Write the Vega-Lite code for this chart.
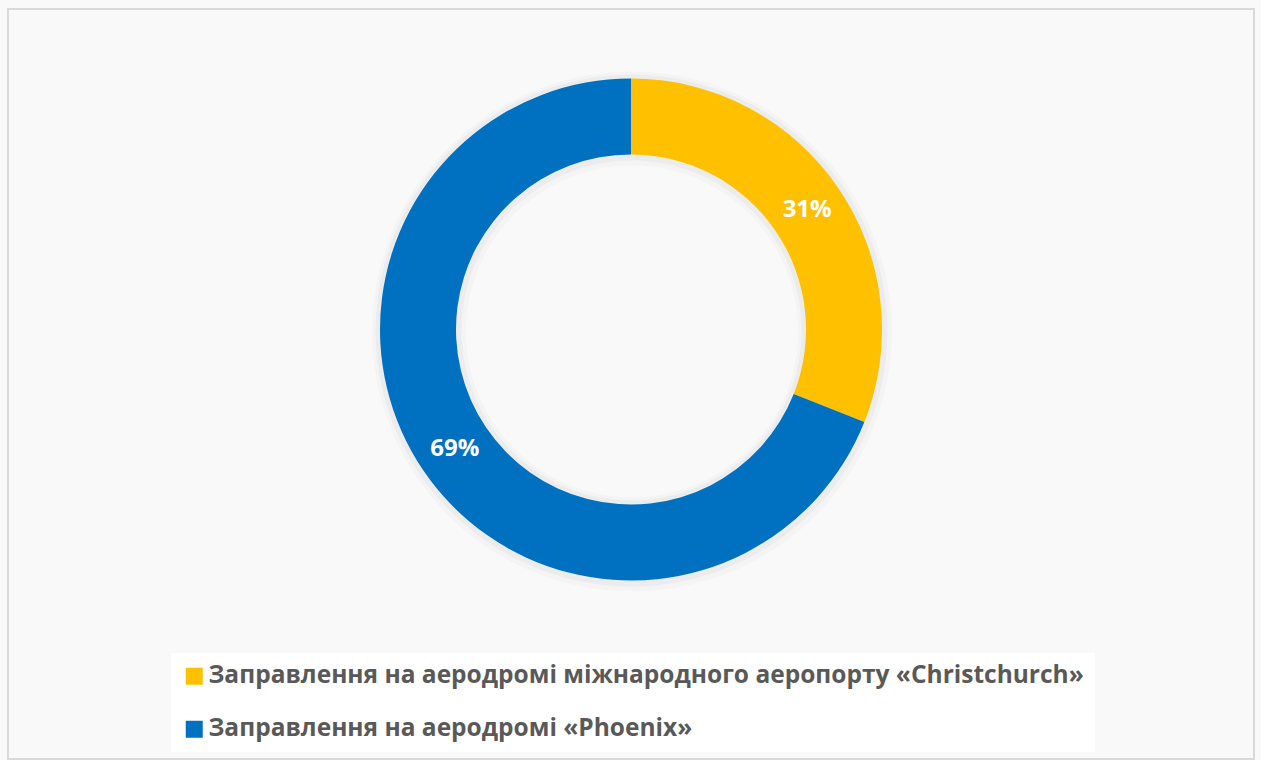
{
  "$schema": "https://vega.github.io/schema/vega-lite/v6.json",
  "width": 1246,
  "height": 750,
  "autosize": {"type": "none"},
  "padding": {"left": 8, "top": 9, "right": 7, "bottom": 1},
  "background": "#f9f9f9",
  "view": {"stroke": "#d9d9d9", "strokeWidth": 2},
  "config": {
    "view": {"stroke": "#d9d9d9", "strokeWidth": 2},
    "font": "Open Sans"
  },
  "data": {
    "values": [
      {"idx": 1, "category": "Заправлення на аеродромі міжнародного аеропорту «Christchurch»", "value": 31, "label": "31%"},
      {"idx": 2, "category": "Заправлення на аеродромі «Phoenix»", "value": 69, "label": "69%"}
    ]
  },
  "encoding": {
    "theta": {"field": "value", "type": "quantitative", "stack": true},
    "order": {"field": "idx", "type": "quantitative"}
  },
  "layer": [
    {
      "mark": {"type": "arc", "outerRadius": 260, "innerRadius": 166, "yOffset": -52.5, "xOffset": 1, "fill": "#000000", "opacity": 0.02}
    },
    {
      "mark": {"type": "arc", "outerRadius": 256, "innerRadius": 170, "yOffset": -53.5, "xOffset": 0.5, "fill": "#000000", "opacity": 0.03}
    },
    {
      "mark": {"type": "arc", "outerRadius": 251, "innerRadius": 175, "yOffset": -54.5},
      "encoding": {
        "color": {
          "field": "category",
          "type": "nominal",
          "sort": {"field": "idx"},
          "scale": {
            "domain": ["Заправлення на аеродромі міжнародного аеропорту «Christchurch»", "Заправлення на аеродромі «Phoenix»"],
            "range": ["#FFC000", "#0070C0"]
          },
          "legend": {
            "title": null,
            "orient": "none",
            "legendX": 163,
            "legendY": 644,
            "direction": "vertical",
            "fillColor": "#ffffff",
            "padding": 11,
            "symbolType": "square",
            "symbolSize": 289,
            "symbolStrokeWidth": 0,
            "symbolOpacity": 1,
            "labelFont": "Open Sans",
            "labelFontWeight": "bold",
            "labelFontSize": 24.5,
            "labelColor": "#595959",
            "labelLimit": 1000,
            "labelOffset": 2,
            "rowPadding": 28
          }
        }
      }
    },
    {
      "mark": {"type": "text", "radius": 213, "yOffset": -54.5, "font": "Open Sans", "fontWeight": "bold", "fontSize": 24, "color": "#ffffff", "align": "center", "baseline": "middle"},
      "encoding": {
        "text": {"field": "label", "type": "nominal"}
      }
    }
  ]
}
